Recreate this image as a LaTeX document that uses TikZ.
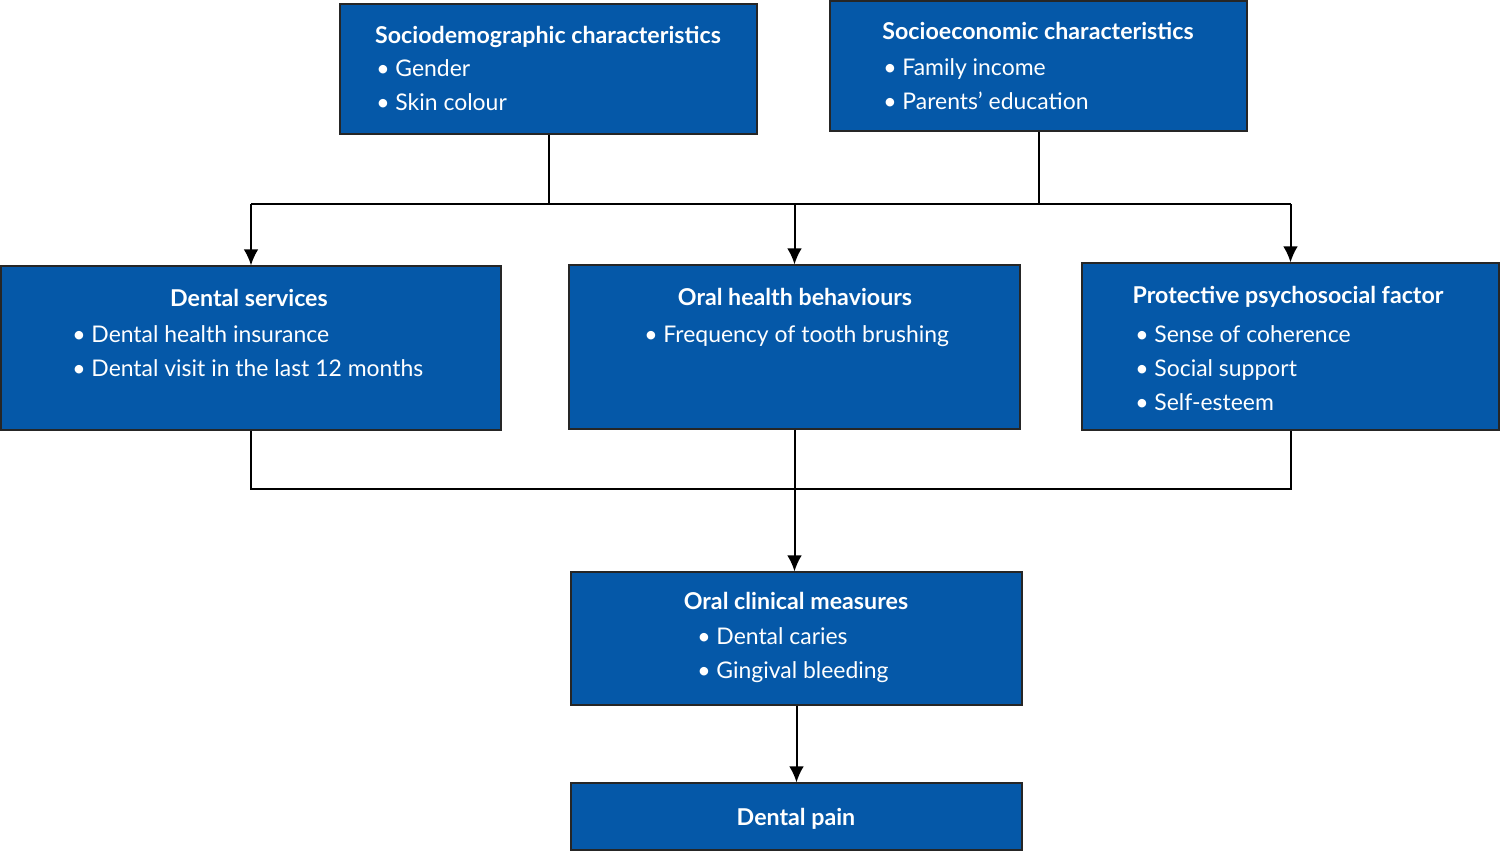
\documentclass[tikz,border=0pt]{standalone}
\usepackage{fontspec}
\setmainfont{Lato}
\usetikzlibrary{arrows.meta}
\definecolor{boxblue}{RGB}{5,88,168}
\tikzset{
    box/.style={rectangle,draw=black!85,line width=0.9pt,fill=boxblue,inner sep=0pt},
    head/.style={anchor=base,text=white,font=\fontsize{17.4}{20}\selectfont\bfseries,inner sep=0pt},
    items/.style={anchor=base west,text=white,align=left,inner sep=0pt,
        font=\fontsize{17.2}{25.5}\selectfont},
    edge/.style={-,line width=1.5pt,draw=black},
    dedge/.style={->,> = {Latex[length=12pt,width=11pt]},line width=1.5pt,draw=black},
}

\begin{document}
\begin{tikzpicture}[x=0.75pt,y=-0.75pt]
    \useasboundingbox (0,0) rectangle (1500,851);
    % boxes
    \node[box,minimum width=312.75pt,minimum height=97.5pt] (sd) at (548.5,69) {};
    \node[box,minimum width=312.75pt,minimum height=97.5pt] (se) at (1038.5,66) {};
    \node[box,minimum width=375pt,minimum height=123pt] (ds) at (251,348) {};
    \node[box,minimum width=338.25pt,minimum height=123pt] (oh) at (794.5,347) {};
    \node[box,minimum width=312.75pt,minimum height=125.25pt] (pp) at (1290.5,346.5) {};
    \node[box,minimum width=338.25pt,minimum height=99.75pt] (oc) at (796.5,638.5) {};
    \node[box,minimum width=338.25pt,minimum height=50.25pt] (dp) at (796.5,816.5) {};
    % texts (items sit on the baseline of their last line)
    \node[head] (sdh) at (548,43) {Sociodemographic characteristics};
    \node[items] (sdi) at (376,110) {• Gender\\• Skin colour};
    \node[head] (seh) at (1038,39) {Socioeconomic characteristics};
    \node[items] (sei) at (883,109) {• Family income\\• Parents’ education};
    \node[head] (dsh) at (249,306) {Dental services};
    \node[items] (dsi) at (72,376) {• Dental health insurance\\• Dental visit in the last 12 months};
    \node[head] (ohh) at (795,305) {Oral health behaviours};
    \node[items] (ohi) at (644,342) {• Frequency of tooth brushing};
    \node[head] (pph) at (1288,303) {Protective psychosocial factor};
    \node[items] (ppi) at (1135,410) {• Sense of coherence\\• Social support\\• Self-esteem};
    \node[head] (och) at (796,609) {Oral clinical measures};
    \node[items] (oci) at (697,678) {• Dental caries\\• Gingival bleeding};
    \node[head] (dph) at (796,825) {Dental pain};
    % connectors
    \coordinate (tb) at (0,204);
    \coordinate (bb) at (0,489);
    \draw[edge] (sd.south) -- (sd.south |- tb);
    \draw[edge] (se.south) -- (se.south |- tb);
    \draw[edge] (ds.north |- tb) -- (pp.north |- tb);
    \draw[dedge] (ds.north |- tb) -- (ds.north);
    \draw[dedge] (oh.north |- tb) -- (oh.north);
    \draw[dedge] (pp.north |- tb) -- (pp.north);
    \draw[edge] (ds.south) -- (ds.south |- bb) -- (pp.south |- bb) -- (pp.south);
    \draw[dedge] (oh.south) -- (oh.south |- oc.north);
    \draw[dedge] (oc.south) -- (dp.north);
\end{tikzpicture}
\end{document}
